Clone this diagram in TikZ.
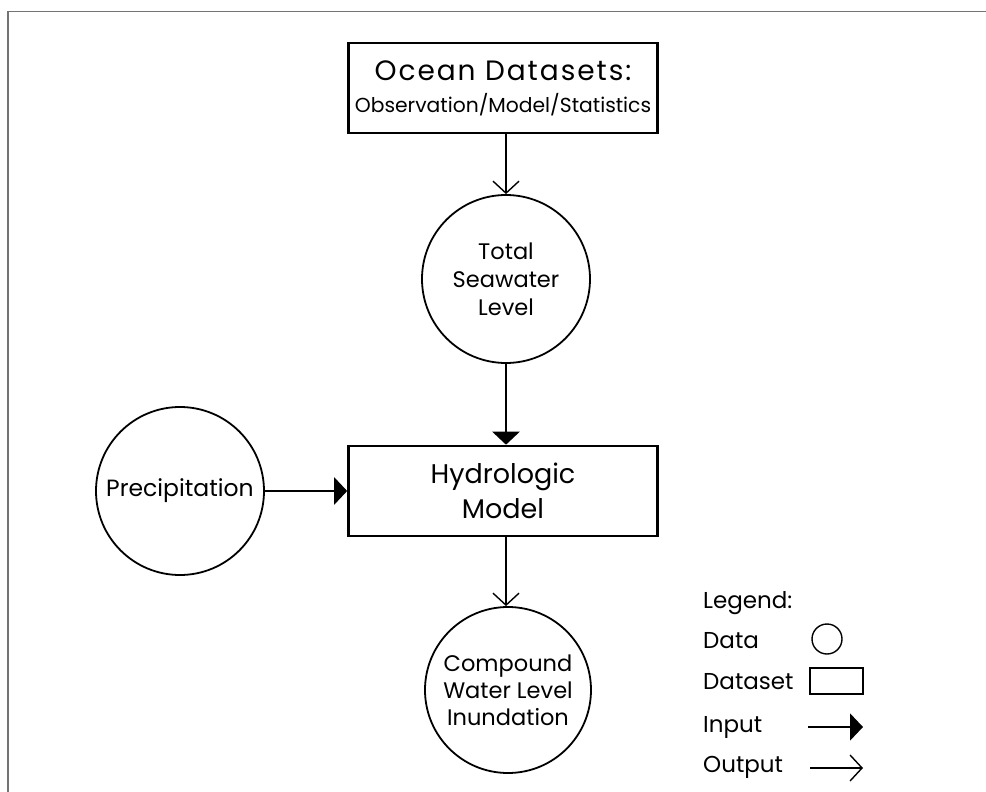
\documentclass[tikz,border=0pt]{standalone}
\usepackage{fontspec}
\setmainfont{Poppins}
\usetikzlibrary{arrows.meta}
\begin{document}
\begin{tikzpicture}[x=1pt,y=-1pt,
  dataset/.style={draw,line width=2.6pt,minimum width=309pt,minimum height=90pt,inner sep=0pt,align=center},
  datum/.style={draw,circle,line width=1.8pt,minimum size=168pt,inner sep=0pt,align=center,font=\fontsize{22.5}{28}\selectfont},
  inarrow/.style={line width=2.6pt,-{Triangle[length=13pt,width=27pt]}},
  outarrow/.style={line width=1.4pt,-{Straight Barb[length=12pt,width=26pt,line width=1.4pt]}},
  legtext/.style={anchor=base west,inner sep=0pt,font=\fontsize{23}{26}\selectfont}]
  % page and frame
  \useasboundingbox (0,0) rectangle (986,792);
  \fill[white] (0,0) rectangle (986,792);
  \draw[line width=1.6pt,color=black!55] (8,792) -- (8,11.5) -- (986,11.5);

  % main chain
  \node[dataset,font=\fontsize{20.3}{32}\selectfont] (ocean) at (503,88)
    {{\fontsize{28}{32}\selectfont\addfontfeature{LetterSpace=7}Ocean Datasets:}\\Observation/Model/Statistics};
  \node[datum] (tsl) at (506,279) {Total\\Seawater\\Level};
  \node[dataset,font=\fontsize{27}{35}\selectfont] (hydro) at (503,491) {Hydrologic\\Model};
  \node[datum,font=\fontsize{23.5}{28}\selectfont] (precip) at (180,491) {Precipitation};
  \node[datum,minimum size=166pt,font=\fontsize{22.5}{27}\selectfont] (cwl) at (508,690) {Compound\\Water Level\\Inundation};

  \draw[outarrow,line width=1.8pt] (ocean.south -| tsl) -- (tsl.north);
  \draw[inarrow] (tsl.south) -- (tsl.south |- hydro.north);
  \draw[inarrow] (precip.east) -- (hydro.west);
  \draw[outarrow] (hydro.south -| tsl) -- (cwl.north -| tsl);

  % legend
  \node[legtext] (lg) at (703,608) {Legend:};
  \node[legtext] (ldata) at (703,648) {Data};
  \node[legtext] (lset) at (703,689) {Dataset};
  \node[legtext] (lin) at (703,732) {Input};
  \node[legtext] (lout) at (703,772) {Output};
  \node[draw,circle,line width=1.4pt,minimum size=30pt,inner sep=0pt] (sdata) at (827,639) {};
  \node[draw,line width=2pt,minimum width=53pt,minimum height=26pt,inner sep=0pt] (sset) at (836.5,681) {};
  \coordinate (inA) at (808,727);
  \coordinate (inB) at (863,727);
  \coordinate (outA) at (810,768);
  \coordinate (outB) at (863,768);
  \draw[inarrow,line width=2pt] (inA) -- (inB);
  \draw[outarrow] (outA) -- (outB);
\end{tikzpicture}
\end{document}
